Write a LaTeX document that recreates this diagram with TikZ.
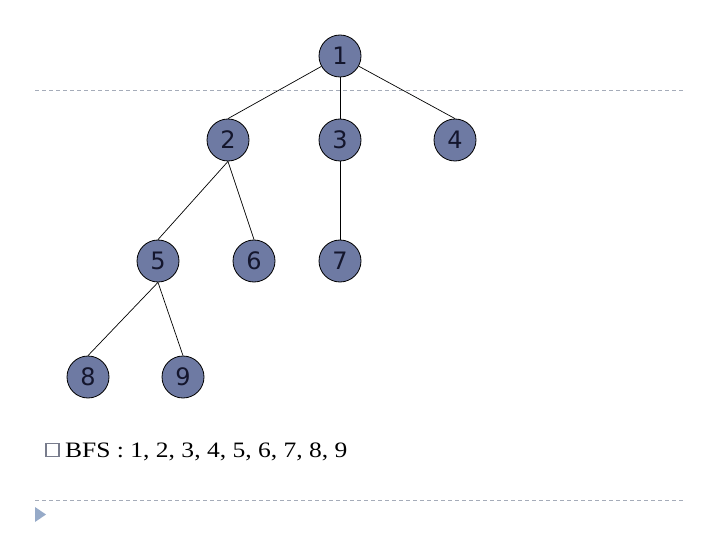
\documentclass[tikz,border=0pt]{standalone}
\usepackage{fontspec}
\setmainfont{Liberation Serif}
\newfontfamily\nodefont{DejaVu Sans}
\definecolor{nodefill}{RGB}{110,122,163}
\definecolor{nodetext}{RGB}{20,22,45}
\definecolor{dashcol}{RGB}{165,172,185}
\definecolor{tricol}{RGB}{150,170,200}
\definecolor{bulletcol}{RGB}{120,124,140}
\begin{document}
\begin{tikzpicture}[x=1pt,y=-1pt,
  vert/.style={circle,draw=black,line width=0.8pt,fill=nodefill,minimum size=42pt,inner sep=0pt,
    text=nodetext,font=\nodefont\fontsize{24}{24}\selectfont},
  edge/.style={draw=black,line width=0.7pt},
  sep/.style={draw=dashcol,line width=0.8pt,dash pattern=on 4pt off 3pt}]
\useasboundingbox (0,0) rectangle (720,540);
\coordinate (la) at (35,90);
\coordinate (lb) at (685,90);
\coordinate (lc) at (35,500);
\coordinate (ld) at (685,500);
\draw[sep] (la) -- (lb);
\draw[sep] (lc) -- (ld);
\fill[tricol] (35,507) -- (46,514.5) -- (35,522) -- cycle;
\node[vert] (n1) at (340,56) {1};
\node[vert] (n2) at (228,140) {2};
\node[vert] (n3) at (340,140) {3};
\node[vert] (n4) at (455,140) {4};
\node[vert] (n5) at (158,261) {5};
\node[vert] (n6) at (254,261) {6};
\node[vert] (n7) at (340,261) {7};
\node[vert] (n8) at (88,377) {8};
\node[vert] (n9) at (183,377) {9};
\draw[edge] (n1) -- (n2.north);
\draw[edge] (n1) -- (n3.north);
\draw[edge] (n1) -- (n4.north);
\draw[edge] (n2.south) -- (n5.north);
\draw[edge] (n2.south) -- (n6.north);
\draw[edge] (n3.south) -- (n7.north);
\draw[edge] (n5.south) -- (n8.north);
\draw[edge] (n5.south) -- (n9.north);
\node[draw=bulletcol,line width=1.2pt,minimum size=13pt,inner sep=0pt] (bul) at (52.5,450) {};
\node[anchor=base west,inner sep=0pt,font=\fontsize{22}{22}\selectfont] (bfs) at (65,457) {\scalebox{1.16}[1]{BFS : 1, 2, 3, 4, 5, 6, 7, 8, 9}};
\end{tikzpicture}
\end{document}
